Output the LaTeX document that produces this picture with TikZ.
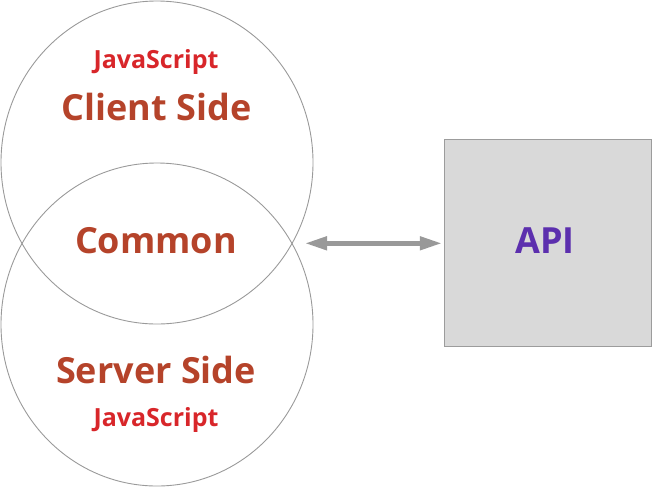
\documentclass[tikz,border=0pt]{standalone}
\usepackage{fontspec}
\setmainfont{Open Sans}
\usetikzlibrary{arrows.meta,shapes.geometric}
\definecolor{ringgray}{HTML}{9A9A9A}
\definecolor{rust}{HTML}{B5432A}
\definecolor{jsred}{HTML}{D8262A}
\definecolor{apipurple}{HTML}{5C2FAE}
\definecolor{boxfill}{HTML}{D9D9D9}
\definecolor{boxline}{HTML}{9C9C9C}
\definecolor{arrowgray}{HTML}{999999}
\tikzset{
  ring/.style={ellipse, draw=ringgray, line width=0.9pt, minimum width=312pt, minimum height=323pt, inner sep=0pt},
  bigtxt/.style={anchor=base, text=rust, font=\bfseries\fontsize{36}{36}\selectfont, inner sep=0pt},
  jstxt/.style={anchor=base, text=jsred, font=\bfseries\fontsize{25}{25}\selectfont, inner sep=0pt},
  apibox/.style={draw=boxline, fill=boxfill, line width=0.9pt, minimum width=207pt, minimum height=207pt, inner sep=0pt},
  apitxt/.style={anchor=base, text=apipurple, font=\bfseries\fontsize{36}{36}\selectfont, inner sep=0pt},
  link/.style={draw=arrowgray, line width=4.5pt, {Triangle[length=22pt,width=13pt]}-{Triangle[length=22pt,width=13pt]}}
}
\begin{document}
\begin{tikzpicture}[x=1pt,y=-1pt]
  \useasboundingbox (0,0) rectangle (652,488);
  \node[ring] (client) at (157,162.5) {};
  \node[ring] (server) at (157,324.5) {};
  \node[jstxt] (jstop) at (156,68) {JavaScript};
  \node[bigtxt] (clienttxt) at (156.5,120) {Client Side};
  \node[bigtxt] (common) at (156,253) {Common};
  \node[bigtxt] (servertxt) at (156,383) {Server Side};
  \node[jstxt] (jsbot) at (156,426) {JavaScript};
  \node[apibox] (api) at (547.8,242.7) {};
  \node[apitxt] (apitext) at (545,253) {API};
  \coordinate (linkstart) at (305,243.3);
  \draw[link, shorten >=2pt] (linkstart) -- (linkstart -| api.west);
\end{tikzpicture}
\end{document}
